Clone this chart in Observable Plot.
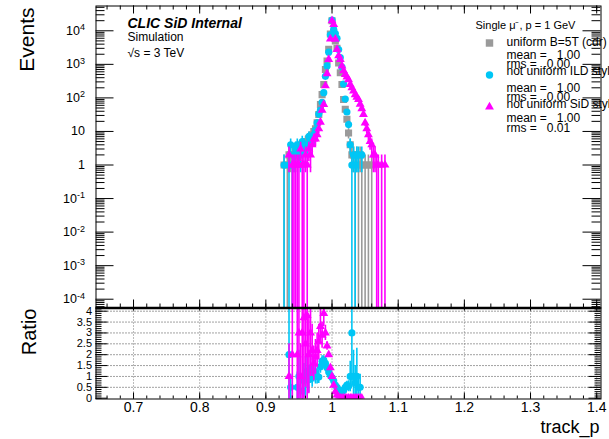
<!DOCTYPE html>
<html><head><meta charset="utf-8">
<script src="https://cdn.jsdelivr.net/npm/d3@7"></script>
<script src="https://cdn.jsdelivr.net/npm/@observablehq/plot@0.6"></script>
<style>
html,body{margin:0;padding:0;background:#fff;}
#wrap{position:relative;width:609px;height:439px;overflow:hidden;background:#fff;}
#wrap svg{position:absolute;left:0;max-width:none;}
</style></head><body><div id="wrap"></div>
<script>
// ---- data ----
const binCenters = [0.925,0.9275,0.93,0.9325,0.935,0.9375,0.94,0.9425,0.945,0.9475,0.95,0.9525,0.955,0.9575,0.96,0.9625,0.965,0.9675,0.97,0.9725,0.975,0.9775,0.98,0.9825,0.985,0.9875,0.99,0.9925,0.995,0.9975,1.0,1.0025,1.005,1.0075,1.01,1.0125,1.015,1.0175,1.02,1.0225,1.025,1.0275,1.03,1.0325,1.035,1.0375,1.04,1.0425,1.045,1.0475,1.05,1.0525,1.055,1.0575,1.06,1.0625,1.065,1.0675,1.07,1.0725,1.075,1.0775,1.08];
const countsUniform = [0,1,0,1,2,2,1,2,3,2,3,3,4,4,5,5,6,7,8,10,12,18,32,63,125,250,700,1260,2800,8000,20000,8700,5000,3000,1100,560,250,90,46,23,9,4,2,2,1,2,1,2,1,0,1,0,1,0,1,0,0,0,0,0,0,0,0];
const countsILD     = [0,1,0,0,1,4,1,2,3,4,3,2,5,4,3,4,7,5,5,8,11,18,33,43,74,143,440,900,2300,7600,21000,11000,8300,6000,2750,1600,830,260,92,38,16,4,1,2,1,2,2,0,2,0,0,0,0,0,0,0,0,0,0,0,0,0,0];
const countsSiD     = [0,0,0,0,2,0,1,1,1,1,1,3,1,1,2,1,3,2,4,6,6,8,12,19,43,64,230,525,1400,5700,20000,15500,5600,2800,1800,1400,900,650,500,420,350,250,200,160,125,105,90,65,48,32,18,12,8,5,4,2,2,1,1,0,1,0,1];

const ratioILDx   = [0.935,0.9375,0.9475,0.95,0.955,0.9575,0.96,0.9625,0.965,0.9675,0.97,0.9725,0.975,0.9775,0.98,0.9825,0.985,0.9875,0.99,0.9925,0.995,0.9975,1.0,1.0025,1.005,1.0075,1.01,1.0125,1.015,1.0175,1.02,1.0225,1.025,1.0275,1.03,1.0325,1.035,1.0375,1.04,1.0425];
const ratioILD    = [2.0,0.5,0.5,1.0,0.33,0.8,1.0,1.25,0.85,1.4,1.0,1.25,1.1,1.0,0.97,1.45,1.7,1.75,1.6,1.4,1.2,1.05,0.95,0.8,0.6,0.5,0.4,0.35,0.3,0.35,0.5,0.6,0.55,1.0,3.0,1.0,0.7,1.0,0.5,0.5];
const ratioILDerr = [4.0,0.6,0.7,1.2,0.4,0.8,0.9,0.8,0.6,0.7,0.5,0.5,0.45,0.35,0.3,0.3,0.25,0.2,0.12,0.07,0.04,0.02,0.01,0.01,0.02,0.02,0.03,0.04,0.05,0.08,0.12,0.18,0.25,0.7,2.5,1.2,0.8,1.3,0.6,0.6];

const ratioSiDx   = [0.935,0.94,0.9475,0.95,0.9525,0.955,0.9575,0.96,0.9625,0.965,0.9675,0.97,0.9725,0.975,0.9775,0.98,0.9825,0.985,0.9875,0.99,0.9925,0.995,0.9975,1.0,1.0025,1.005,1.0075,1.01,1.0125,1.015,1.0175,1.02,1.0225,1.025,1.0275,1.03,1.0325,1.035,1.0375,1.04,1.0425,1.045];
const ratioSiD    = [1.0,2.0,2.0,3.0,1.0,3.0,3.7,2.5,3.8,2.0,3.0,2.2,1.6,1.9,2.2,2.6,3.3,2.9,3.9,3.0,2.4,2.0,1.4,1.0,0.6,0.3,0.15,0.05,0,0,0,0,0,0,0,0,0,0,0,0,0,0];
const ratioSiDerr = [1.5,3.0,3.0,4.0,1.5,3.5,4.0,2.0,4.0,1.8,2.0,1.2,0.8,0.8,0.8,0.8,0.8,0.6,0.6,0.35,0.2,0.1,0.05,0.02,0.01,0.01,0.01,0.01,0,0,0,0,0,0,0,0,0,0,0,0,0,0];

const yTicks = [1e-4,1e-3,1e-2,1e-1,1,10,100,1000,10000];
const yTickLabels = ["10\u207B\u2074","10\u207B\u00B3","10\u207B\u00B2","10\u207B\u00B9","1","10","10\u00B2","10\u00B3","10\u2074"];
const xTicks = [0.7,0.8,0.9,1.0,1.1,1.2,1.3,1.4];
const xTickLabels = ["0.7","0.8","0.9","1","1.1","1.2","1.3","1.4"];
const ratioTicks = [0,0.5,1,1.5,2,2.5,3,3.5,4];
const ratioTickLabels = ["0","0.5","1","1.5","2","2.5","3","3.5","4"];

const seriesNames = ["uniform B=5T (cdr)","not uniform ILD style","not uniform SiD style"];
const seriesMeans = ["1.00","1.00","1.00"];
const seriesRms   = ["0.00","0.00","0.01"];
const headerText = "Single \u03BC\u207B, p = 1 GeV";

// ---- styling ----
const colGray = "#9a9a9a", colCyan = "#00c6f5", colMag = "#ff00ff";
const FONT = "'Liberation Sans', Arial, Helvetica, sans-serif";
const xDomain = [0.6433, 1.4065];
const mainW = 609 - 95.5 - 8.5, mainH = 307.5 - 5.5;
const ratH = 398.5 - 307.5;

const mk = (counts) => binCenters.map((x, i) => ({x, v: counts[i]})).filter(d => d.v > 0);
const dUni = mk(countsUniform), dILD = mk(countsILD), dSiD = mk(countsSiD);
const rILD = ratioILDx.map((x, i) => ({x, r: ratioILD[i], e: ratioILDerr[i]}));
const rSiD = ratioSiDx.map((x, i) => ({x, r: ratioSiD[i], e: ratioSiDerr[i]}));

const xMinor = d3.range(0.66, 1.4001, 0.02).map(v => +v.toFixed(2));
const yMinor = [];
for (let e = -5; e <= 4; e++) for (let k = 2; k <= 9; k++) yMinor.push(k * Math.pow(10, e));
const ratioMinor = d3.range(0, 4.15, 0.1).map(v => +v.toFixed(1));

function errMarks(data, col, sym, r) {
  return [
    Plot.ruleX(data, {x: "x", y1: d => Math.max(d.v - Math.sqrt(d.v), 1e-9), y2: d => d.v + Math.sqrt(d.v), stroke: col, strokeWidth: 1.6, clip: true}),
    Plot.dot(data, {x: "x", y: "v", symbol: sym, r, fill: col, stroke: "none", clip: true})
  ];
}
function ratioMarks(data, col, sym, r) {
  return [
    Plot.ruleX(data.filter(d => d.e > 0), {x: "x", y1: d => d.r - d.e, y2: d => d.r + d.e, stroke: col, strokeWidth: 1.6, clip: true}),
    Plot.dot(data, {x: "x", y: "r", symbol: sym, r, fill: col, stroke: "none", clip: true})
  ];
}
const txt = (s, o) => Plot.text([s], {text: d => d, frameAnchor: "top-left", textAnchor: "start", lineAnchor: "bottom", fill: "black", fontFamily: FONT, ...o});

// legend layout (page coordinates relative to main frame at 95.5, 5.5)
const lgX = 506 - 95.5, lgMarkX = 489 - 95.5;
const lgName = [45.5, 74.5, 107.5], lgMean = [58, 91, 121.5], lgRms = [67, 100, 131.5], lgMark = [42.5, 74.5, 106.5];
const lgCols = [colGray, colCyan, colMag], lgSyms = ["square", "circle", "triangle"], lgR = [4.2, 3.7, 3.3];

const legendMarks = [];
seriesNames.forEach((n, i) => {
  legendMarks.push(txt(n, {dx: lgX, dy: lgName[i] - 5.5, fontSize: 12}));
  legendMarks.push(txt("mean =   " + seriesMeans[i], {dx: lgX, dy: lgMean[i] - 5.5, fontSize: 12}));
  legendMarks.push(txt("rms =   " + seriesRms[i], {dx: lgX, dy: lgRms[i] - 5.5, fontSize: 12}));
  legendMarks.push(Plot.dot([n], {frameAnchor: "top-left", dx: lgMarkX, dy: lgMark[i] - 5.5, symbol: lgSyms[i], r: lgR[i], fill: lgCols[i], stroke: "none"}));
});

const main = Plot.plot({
  width: 609, height: 309,
  marginLeft: 95.5, marginRight: 8.5, marginTop: 5.5, marginBottom: 1.5,
  style: {fontFamily: FONT, fontSize: "12px", background: "white", overflow: "visible"},
  x: {domain: xDomain, axis: null},
  y: {type: "log", domain: [Math.pow(10, -4.262), Math.pow(10, 4.739)], axis: null},
  marks: [
    ...errMarks(dUni, colGray, "square", 4),
    ...errMarks(dILD, colCyan, "circle", 3.6),
    ...errMarks(dSiD, colMag, "triangle", 3.3),
    // ticks
    Plot.ruleY(yTicks, {y: d => d, insetRight: mainW - 18, stroke: "black"}),
    Plot.ruleY(yTicks, {y: d => d, insetLeft: mainW - 18, stroke: "black"}),
    Plot.ruleY(yMinor, {y: d => d, insetRight: mainW - 9, stroke: "black", clip: true}),
    Plot.ruleY(yMinor, {y: d => d, insetLeft: mainW - 9, stroke: "black", clip: true}),
    Plot.ruleX(xTicks, {x: d => d, insetBottom: mainH - 8, stroke: "black"}),
    Plot.ruleX(xTicks, {x: d => d, insetTop: mainH - 8, stroke: "black"}),
    Plot.ruleX(xMinor, {x: d => d, insetBottom: mainH - 4, stroke: "black"}),
    Plot.ruleX(xMinor, {x: d => d, insetTop: mainH - 4, stroke: "black"}),
    Plot.axisY({ticks: yTicks, tickFormat: d => yTickLabels[yTicks.indexOf(d)], tickSize: 0, tickPadding: 11, fontSize: 12.5, label: null}),
    Plot.frame({stroke: "black"}),
    txt("Events", {dx: -62, dy: 1.5, rotate: -90, textAnchor: "end", fontSize: 21}),
    txt("CLIC SiD Internal", {dx: 31.5, dy: 21.5, fontSize: 14, fontWeight: "bold", fontStyle: "italic"}),
    txt("Simulation", {dx: 31.5, dy: 35, fontSize: 12}),
    txt("\u221As = 3 TeV", {dx: 31.5, dy: 50.5, fontSize: 12}),
    txt(headerText, {dx: 475 - 95.5, dy: 28.5 - 5.5, fontSize: 11}),
    ...legendMarks
  ]
});

// render exponents of the log-axis labels as raised smaller text
const supMap = {"\u207B": "-", "\u2074": "4", "\u00B3": "3", "\u00B2": "2", "\u00B9": "1"};
d3.select(main).selectAll('g[aria-label="y-axis tick label"] text').each(function () {
  const s = this.textContent;
  if (!s.startsWith("10") || s.length <= 2) return;
  const sup = [...s.slice(2)].map(c => supMap[c] ?? c).join("");
  const t = d3.select(this);
  t.text(null);
  t.append("tspan").text("10");
  t.append("tspan").attr("font-size", 9).attr("dy", "-0.5em").text(sup);
});

const ratio = Plot.plot({
  width: 609, height: 139,
  marginLeft: 95.5, marginRight: 8.5, marginTop: 7.5, marginBottom: 40.5,
  style: {fontFamily: FONT, fontSize: "12px", background: "transparent", overflow: "visible"},
  x: {domain: xDomain, axis: null},
  y: {domain: [-0.037, 4.147], axis: null},
  marks: [
    Plot.ruleY(ratioTicks.filter(d => d > 0), {y: d => d, stroke: "#444", strokeDasharray: "1,2"}),
    Plot.ruleX(xTicks, {x: d => d, stroke: "#777", strokeDasharray: "1,2"}),
    ...ratioMarks(rILD, colCyan, "circle", 3.6),
    ...ratioMarks(rSiD, colMag, "triangle", 3.3),
    Plot.ruleY(ratioTicks, {y: d => d, insetRight: mainW - 12, stroke: "black"}),
    Plot.ruleY(ratioTicks, {y: d => d, insetLeft: mainW - 12, stroke: "black"}),
    Plot.ruleY(ratioMinor, {y: d => d, insetRight: mainW - 6, stroke: "black"}),
    Plot.ruleY(ratioMinor, {y: d => d, insetLeft: mainW - 6, stroke: "black"}),
    Plot.ruleX(xTicks, {x: d => d, insetTop: ratH - 6, stroke: "black"}),
    Plot.ruleX(xMinor, {x: d => d, insetTop: ratH - 3, stroke: "black"}),
    Plot.ruleX(xTicks, {x: d => d, insetBottom: ratH - 3, stroke: "black"}),
    Plot.axisY({ticks: ratioTicks, tickFormat: d => ratioTickLabels[ratioTicks.indexOf(d)], tickSize: 0, tickPadding: 4, fontSize: 11, label: null}),
    Plot.axisX({ticks: xTicks, tickFormat: d => xTickLabels[xTicks.indexOf(d)], tickSize: 0, tickPadding: 3, fontSize: 14, label: null}),
    Plot.frame({stroke: "black"}),
    Plot.ruleY([4.147], {stroke: "black", strokeWidth: 2.5}),
    txt("Ratio", {dx: -60.5, dy: 0.5, rotate: -90, textAnchor: "end", fontSize: 20}),
    Plot.text(["track_p"], {text: d => d, frameAnchor: "bottom-right", dx: -1.5, dy: 33.5, textAnchor: "end", lineAnchor: "bottom", fontSize: 18, fontFamily: FONT, fill: "black"})
  ]
});

main.style.top = "0px";
ratio.style.top = "300px";
const wrap = document.getElementById("wrap");
wrap.appendChild(main);
wrap.appendChild(ratio);
</script>
</body></html>
